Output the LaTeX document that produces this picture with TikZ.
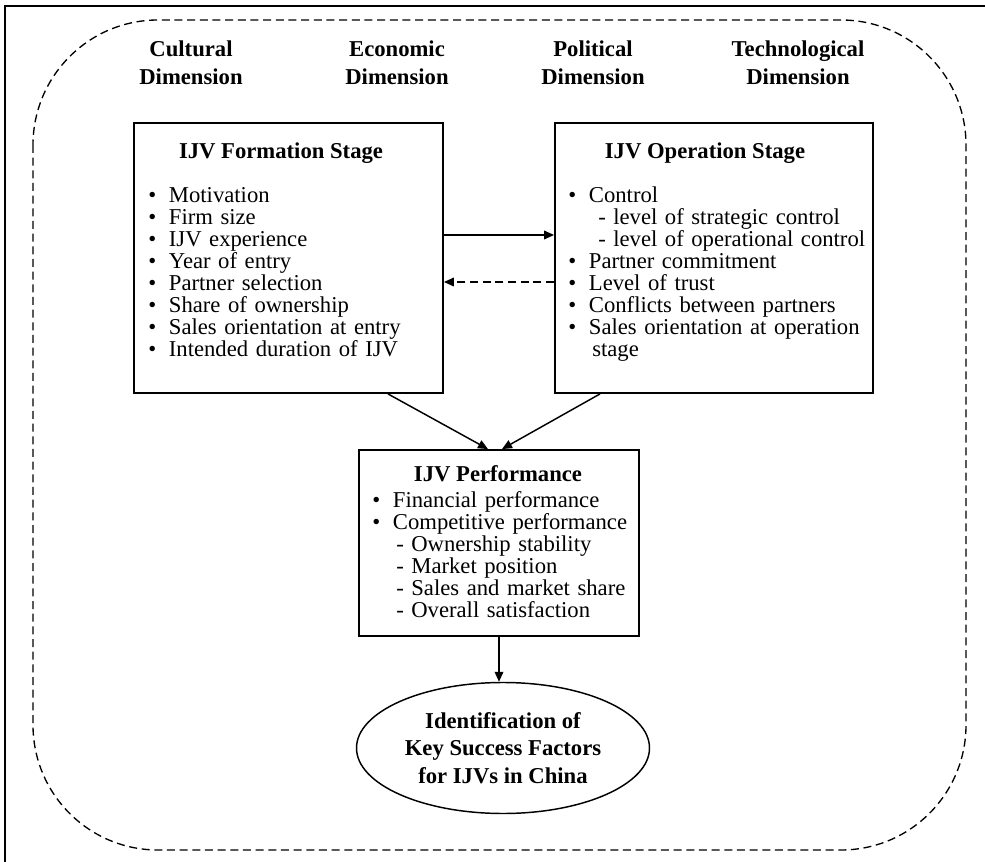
\documentclass[tikz,border=0pt]{standalone}
\usepackage{fontspec}
\setmainfont{Liberation Serif}
\usetikzlibrary{arrows.meta,shapes.geometric}
\newcommand{\bul}{\makebox[15.5pt][l]{\textbullet}}
\tikzset{
  frameline/.style={line width=1.3pt},
  dashframe/.style={line width=1pt, dash pattern=on 6pt off 3.5pt},
  stagebox/.style={draw, line width=1.4pt, rectangle, inner sep=0pt},
  titletext/.style={font=\bfseries\fontsize{17}{21}\selectfont, inner sep=0pt, anchor=base},
  dimtext/.style={font=\bfseries\fontsize{17}{21}\selectfont, inner sep=0pt, anchor=base, align=center, text width=150pt},
  listtext/.style={font=\fontsize{17}{16.5}\selectfont, inner sep=0pt, anchor=base west, align=left, text width=225pt},
  arr/.style={line width=1.1pt, -{Triangle[length=7.5pt,width=6.5pt]}},
  dasharr/.style={arr, dash pattern=on 6pt off 3.5pt},
  goal/.style={draw, line width=1.1pt, ellipse, inner sep=0pt, align=center,
    font=\bfseries\fontsize{17}{20.6}\selectfont}
}
\begin{document}
\begin{tikzpicture}[x=0.75pt,y=-0.75pt]
\useasboundingbox (0,0) rectangle (985,862);
% outer solid frame (cropped)
\draw[frameline] (5,862) -- (5,6) -- (985,6);
% dashed rounded environment
\draw[dashframe, rounded corners=93.75pt] (33,20) rectangle (966,850);
% dimensions
\node[dimtext] (cult) at (191,57) {Cultural\\Dimension};
\node[dimtext] (econ) at (397,57) {Economic\\Dimension};
\node[dimtext] (poli) at (593,57) {Political\\Dimension};
\node[dimtext] (tech) at (798,57) {Technological\\Dimension};
% formation stage
\node[stagebox, minimum width=231.75pt, minimum height=202.5pt] (formation) at (288.5,258) {};
\node[titletext] (ftitle) at (281,159) {IJV Formation Stage};
\node[listtext] (flist) at (148,203) {\bul Motivation\\
\bul Firm size\\
\bul IJV experience\\
\bul Year of entry\\
\bul Partner selection\\
\bul Share of ownership\\
\bul Sales orientation at entry\\
\bul Intended duration of IJV};
% operation stage
\node[stagebox, minimum width=238.5pt, minimum height=202.5pt] (operation) at (714,258) {};
\node[titletext] (otitle) at (705,159) {IJV Operation Stage};
\node[listtext] (olist) at (568,203) {\bul Control\\
\hspace*{22.5pt}- level of strategic control\\
\hspace*{22.5pt}- level of operational control\\
\bul Partner commitment\\
\bul Level of trust\\
\bul Conflicts between partners\\
\bul Sales orientation at operation\\
\hspace*{18pt}stage};
% performance
\node[stagebox, minimum width=210pt, minimum height=139.5pt] (perf) at (499,543) {};
\node[titletext] (ptitle) at (498,482) {IJV Performance};
\node[listtext] (plist) at (372,508) {\bul Financial performance\\
\bul Competitive performance\\
\hspace*{18pt}- Ownership stability\\
\hspace*{18pt}- Market position\\
\hspace*{18pt}- Sales and market share\\
\hspace*{18pt}- Overall satisfaction};
% goal
\node[goal, minimum width=219.75pt, minimum height=98.25pt] (kf) at (503,748)
  {Identification of\\Key Success Factors\\for IJVs in China};
% connectors
\draw[arr] (formation.east |- 0,235) -- (operation.west |- 0,235);
\draw[dasharr] (operation.west |- 0,282) -- (formation.east |- 0,282);
\draw[arr] (formation.south -| 388,0) -- (perf.north -| 488,0);
\draw[arr] (operation.south -| 600,0) -- (perf.north -| 502,0);
\draw[arr] (perf.south) -- (perf.south |- kf.north);
\end{tikzpicture}
\end{document}
